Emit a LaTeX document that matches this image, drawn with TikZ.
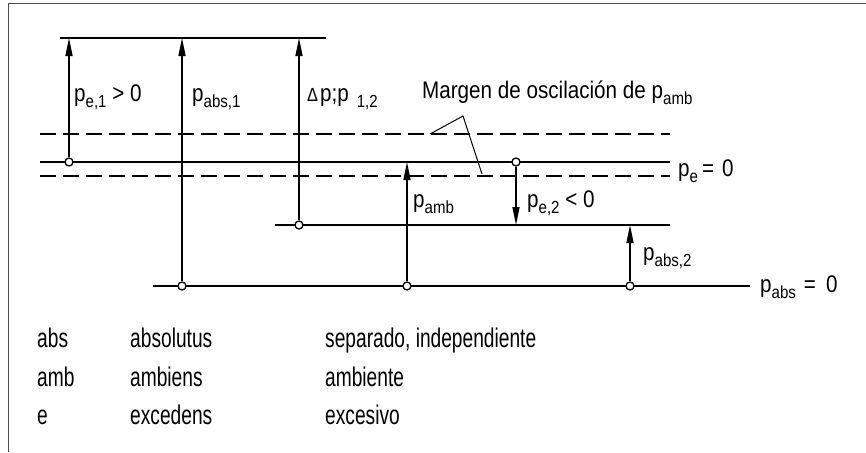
\documentclass[tikz,border=0pt]{standalone}
\usepackage{fontspec}
\setmainfont{Liberation Sans}[FakeStretch=0.86]
\newfontfamily\legfont{Liberation Sans}[FakeStretch=0.71]
\usetikzlibrary{arrows.meta}
\newcommand\lsub[1]{\raisebox{-6pt}{\fontsize{17.5}{18}\selectfont #1}}
\begin{document}
\begin{tikzpicture}[x=1pt,y=-1pt,
  lvl/.style={line width=1.7pt},
  osc/.style={line width=1.7pt, dash pattern=on 16pt off 7pt},
  arr/.style={line width=1.5pt, -{Triangle[length=18pt,width=7pt]}},
  lead/.style={line width=1pt},
  dot/.style={circle, draw, fill=white, line width=1.3pt, inner sep=0pt, minimum size=8pt},
  lbl/.style={anchor=base west, inner sep=0pt, font=\fontsize{24}{26}\selectfont},
  leg/.style={anchor=base west, inner sep=0pt, font=\legfont\fontsize{27}{30}\selectfont},
  frm/.style={line width=1pt, black!70}]
\useasboundingbox (0,0) rectangle (866,452);
% frame
\draw[frm] (8,452) -- (8,4) -- (866,4);
% level lines
\coordinate (topA) at (60,38);   \coordinate (topB) at (326,38);
\coordinate (dsA) at (40,134);   \coordinate (dsB) at (670,134);
\coordinate (peA) at (40,162);   \coordinate (peB) at (670,162);
\coordinate (diA) at (40,176);   \coordinate (diB) at (670,176);
\coordinate (midA) at (275,225); \coordinate (midB) at (670,225);
\coordinate (absA) at (153,286); \coordinate (absB) at (750,286);
\draw[lvl] (topA) -- (topB);
\draw[osc] (dsA) -- (dsB);
\draw[lvl] (peA) -- (peB);
\draw[osc] (diA) -- (diB);
\draw[lvl] (midA) -- (midB);
\draw[lvl] (absA) -- (absB);
% leader lines
\coordinate (apex) at (463,116);
\coordinate (ldU) at (430,134);
\coordinate (ldL) at (482,174);
\draw[lead] (ldU) -- (apex) -- (ldL);
% circles
\node[dot] (c1) at (69,162) {};
\node[dot] (c2) at (182,286) {};
\node[dot] (c3) at (299,225) {};
\node[dot] (c4) at (407,286) {};
\node[dot] (c5) at (516,162) {};
\node[dot] (c6) at (630,286) {};
% arrow targets
\coordinate (t1) at (69,38);
\coordinate (t2) at (182,38);
\coordinate (t3) at (299,38);
\coordinate (t4) at (407,162);
\coordinate (t5) at (516,225);
\coordinate (t6) at (630,225);
\draw[arr] (c1) -- (t1);
\draw[arr] (c2) -- (t2);
\draw[arr] (c3) -- (t3);
\draw[arr] (c4) -- (t4);
\draw[arr] (c5) -- (t5);
\draw[arr] (c6) -- (t6);
% labels
\node[lbl] (l1) at (74,101) {p\lsub{e,1} > 0};
\node[lbl] (l2) at (192,101) {p\lsub{abs,1}};
\node[lbl] (l3) at (307,101) {{\fontsize{19}{20}\selectfont Δ}\hspace{2pt}p;p\hspace{8pt}\lsub{1,2}};
\node[lbl] (l4) at (422,98) {Margen de oscilación de p\lsub{amb}};
\node[lbl] (l5) at (678,176) {p\lsub{e}\hspace{4pt}=\hspace{8pt}0};
\node[lbl] (l6) at (413,207) {p\lsub{amb}};
\node[lbl] (l7) at (527,207) {p\lsub{e,2} < 0};
\node[lbl] (l8) at (643,260) {p\lsub{abs,2}};
\node[lbl] (l9) at (760,292) {p\lsub{abs}\hspace{8pt}=\hspace{10pt}0};
% legend
\node[leg] (a1) at (37,347) {abs};
\node[leg] (a2) at (130,347) {absolutus};
\node[leg] (a3) at (325,347) {separado, independiente};
\node[leg] (b1) at (37,386) {amb};
\node[leg] (b2) at (130,386) {ambiens};
\node[leg] (b3) at (325,386) {ambiente};
\node[leg] (e1) at (37,424) {e};
\node[leg] (e2) at (130,424) {excedens};
\node[leg] (e3) at (325,424) {excesivo};
\end{tikzpicture}
\end{document}
